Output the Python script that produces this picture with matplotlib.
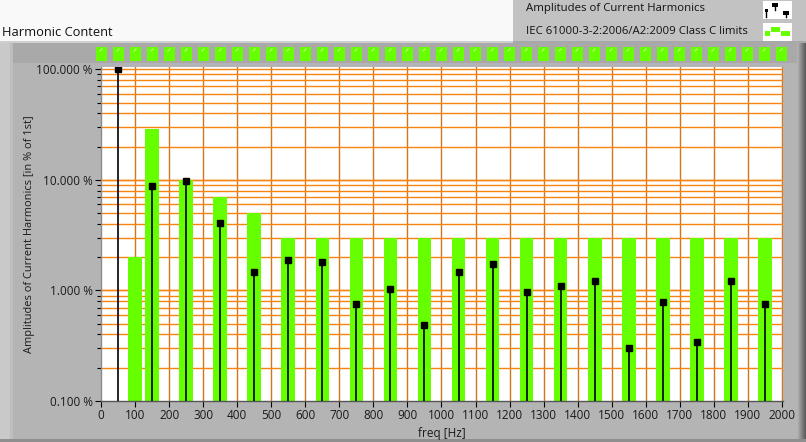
import matplotlib
matplotlib.use("Agg")
import matplotlib.pyplot as plt
from matplotlib.patches import Rectangle
from matplotlib.lines import Line2D
import numpy as np

# ---------------- data ----------------
harm_freq = [50, 150, 250, 350, 450, 550, 650, 750, 850, 950, 1050,
             1150, 1250, 1350, 1450, 1550, 1650, 1750, 1850, 1950]
harm_amp = [100.0, 8.8, 9.8, 4.05, 1.46, 1.87, 1.80, 0.76, 1.02, 0.49, 1.46,
            1.72, 0.96, 1.09, 1.23, 0.30, 0.78, 0.34, 1.23, 0.75]
limit_freq = [100, 150, 250, 350, 450, 550, 650, 750, 850, 950, 1050,
              1150, 1250, 1350, 1450, 1550, 1650, 1750, 1850, 1950]
limit_val = [2, 29, 10, 7, 5, 3, 3, 3, 3, 3, 3, 3, 3, 3, 3, 3, 3, 3, 3, 3]
x_ticks = list(range(0, 2001, 100))
y_ticks = [0.1, 1, 10, 100]
y_ticklabels = ["0.100 %", "1.000 %", "10.000 %", "100.000 %"]
title = "Harmonic Content"
legend_labels = ["Amplitudes of Current Harmonics",
                 "IEC 61000-3-2:2006/A2:2009 Class C limits"]
xlabel = "freq [Hz]"
ylabel = "Amplitudes of Current Harmonics [in % of 1st]"

GREEN = "#66ff00"
HGRID = "#f88410"
VGRID = "#d2761e"
FONT = ["Open Sans", "DejaVu Sans"]
plt.rcParams["font.family"] = FONT

W, H = 806, 442
fig = plt.figure(figsize=(W / 100, H / 100), dpi=100, facecolor="#b4b4b4")


def rect(x0, y0, x1, y1, color, z=0, **kw):
    r = Rectangle((x0 / W, 1 - y1 / H), (x1 - x0) / W, (y1 - y0) / H,
                  transform=fig.transFigure, facecolor=color,
                  edgecolor="none", zorder=z, **kw)
    fig.add_artist(r)
    return r


def line(xs, ys, color, lw=1.0, z=5):
    fig.add_artist(Line2D([x / W for x in xs], [1 - y / H for y in ys],
                          transform=fig.transFigure, color=color, lw=lw,
                          zorder=z))


# background panels
rect(0, 0, 513, 41, "#f9f9f9")
rect(0, 41, 513, 43, "#cfcfcf")
rect(513, 0, 806, 42, "#c2c2c2")
rect(513, 41, 806, 43, "#a8a8a8")
rect(0, 43, 10, 442, "#c9c9c9")
rect(10, 43, 13, 442, "#bebebe")
rect(13, 43, 797, 63, "#a9a9a9")
# right dark gradient
grad = np.linspace(0.70, 0.36, 9)
for i, g in enumerate(grad):
    rect(797 + i, 43, 798 + i, 442, str(g))
rect(0, 439, 806, 442, "#8f8f8f")

# indicators row
for i in range(41):
    x0 = 96 + 17 * i
    rect(x0, 47, x0 + 11, 61, GREEN, z=1)
    line([x0 + 4, x0 + 6], [51, 49], "#c8ff9a", lw=0.8, z=2)

# title & legend
fig.text(2 / W, 1 - 32 / H, title, fontsize=9.3, color="#111111",
         va="center", ha="left")
fig.text(526 / W, 1 - 9 / H, legend_labels[0], fontsize=8.2,
         color="#111111", va="center", ha="left")
fig.text(526 / W, 1 - 32 / H, legend_labels[1], fontsize=8.2,
         color="#111111", va="center", ha="left")
# legend icons
rect(763, 1, 792, 19, "white", z=2)
rect(763, 23, 792, 41, "white", z=2)
line([766, 766], [10, 17], "black", lw=1.0)
rect(765, 9, 768, 12, "black", z=6)
line([775, 775], [5, 10], "black", lw=1.0)
rect(772, 3, 778, 7, "black", z=6)
line([786, 786], [12, 17], "black", lw=1.0)
rect(783, 11, 789, 15, "black", z=6)
rect(765, 31, 770, 36, GREEN, z=6)
rect(771, 27, 780, 32, GREEN, z=6)
rect(781, 31, 790, 36, GREEN, z=6)

# ---------------- main axes ----------------
left, right, top, bottom = 101, 783, 67, 401
ax = fig.add_axes([left / W, 1 - bottom / H, (right - left) / W,
                   (bottom - top) / H])
ax.set_facecolor("white")
ax.set_yscale("log")
ax.set_xlim(0, 2003)
ax.set_ylim(0.1, 105)

# grid
for xv in x_ticks[1:]:
    ax.axvline(xv, color=VGRID, lw=1.0, zorder=1)
for dec in [0.1, 1, 10]:
    for m in range(1, 11):
        v = dec * m
        if 0.1 < v <= 100:
            ax.axhline(v, color=HGRID, lw=1.0, zorder=1)

# limit bars
ax.bar(limit_freq, [v - 0.05 for v in limit_val], bottom=0.05, width=40,
       color=GREEN, edgecolor="none", zorder=2)

# harmonic stems
ax.vlines(harm_freq, 0.05, harm_amp, color="black", lw=1.2, zorder=3)
ax.plot(harm_freq, harm_amp, ls="none", marker="s", ms=5, color="black",
        zorder=4)

# ticks
ax.set_xticks(x_ticks)
ax.set_xticklabels([str(v) for v in x_ticks])
ax.set_yticks(y_ticks)
ax.set_yticklabels(y_ticklabels)
ax.yaxis.set_minor_locator(matplotlib.ticker.LogLocator(base=10,
                                                        subs=range(2, 10)))
ax.yaxis.set_minor_formatter(matplotlib.ticker.NullFormatter())
ax.tick_params(axis="both", which="major", length=4, width=0.8,
               color="black", labelsize=8.5, labelcolor="#1a1a1a", pad=2)
ax.tick_params(axis="y", which="minor", length=3, width=0.8, color="black")
ax.tick_params(axis="x", which="minor", length=0)

for s in ["top", "right"]:
    ax.spines[s].set_visible(False)
ax.spines["left"].set_color("#8a8a8a")
ax.spines["bottom"].set_color("#555555")
ax.spines["left"].set_linewidth(1.0)
ax.spines["bottom"].set_linewidth(1.0)

ax.set_xlabel(xlabel, fontsize=8.5, color="#1a1a1a", labelpad=3)
fig.text(30 / W, 1 - 234 / H, ylabel, rotation=90, fontsize=7.9,
         color="#1a1a1a", va="center", ha="center")

fig.savefig("out.png", dpi=100, facecolor=fig.get_facecolor())
